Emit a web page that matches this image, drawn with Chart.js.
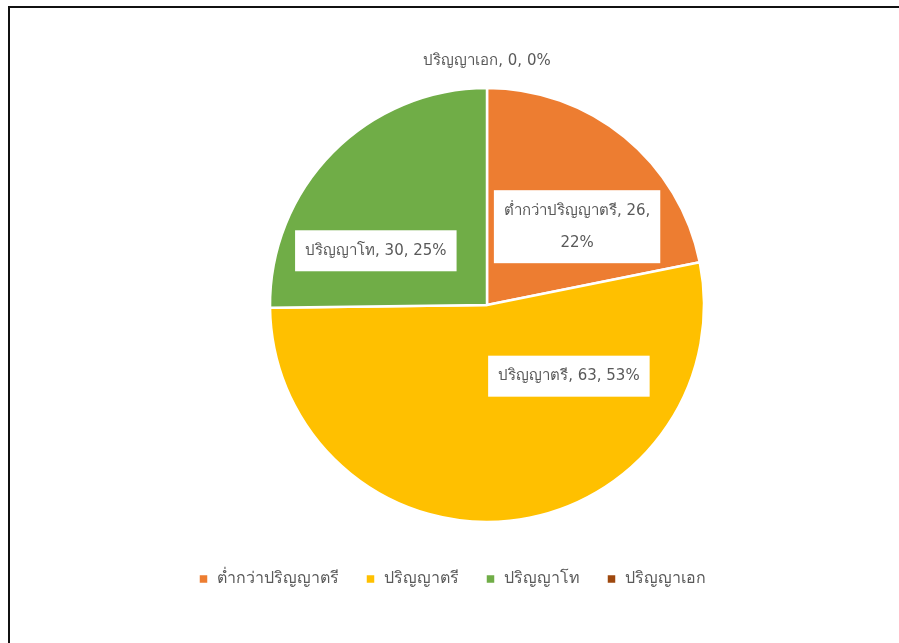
<!DOCTYPE html>
<html>
<head>
<meta charset="utf-8">
<script src="https://cdn.jsdelivr.net/npm/chart.js@4.4.1/dist/chart.umd.min.js"></script>
<style>
  html, body { margin: 0; padding: 0; background: #fff; }
  #wrap { position: relative; width: 899px; height: 643px; overflow: hidden; }
  #frame { position: absolute; left: 8px; top: 6px; width: 1000px; height: 1000px;
           border-left: 2px solid #111; border-top: 2px solid #111; }
  #box { position: absolute; left: 0; top: 0; width: 899px; height: 643px; }
</style>
</head>
<body>
<div id="wrap">
  <div id="frame"></div>
  <div id="box"><canvas id="pie"></canvas></div>
</div>
<script>
// ข้อมูลระดับการศึกษา
var categories = ['ต่ำกว่าปริญญาตรี', 'ปริญญาตรี', 'ปริญญาโท', 'ปริญญาเอก'];
var counts = [26, 63, 30, 0];
var colors = ['#ED7D31', '#FFC000', '#70AD47', '#9E480E'];

var FONT = "Tahoma, 'DejaVu Sans', 'Noto Sans', sans-serif";

// where each label box sits: angle (deg, 0 = 3 o'clock) and distance as part of radius
var labelPos = [
  { a: -41, d: 0.55 },
  { a: 41, d: 0.50 },
  { a: -154, d: 0.57 },
  { a: -90, d: 1.125 }
];

var total = 0;
for (var i = 0; i < counts.length; i++) { total += counts[i]; }

var pieLabels = {
  id: 'pieLabels',
  afterDatasetsDraw: function(chart) {
    var ctx = chart.ctx;
    var meta = chart.getDatasetMeta(0);
    ctx.save();
    ctx.font = '15px ' + FONT;
    ctx.textAlign = 'center';
    ctx.textBaseline = 'middle';
    for (var i = 0; i < meta.data.length; i++) {
      var arc = meta.data[i];
      var pct = Math.round(counts[i] * 100 / total);
      var txt = categories[i] + ', ' + counts[i] + ', ' + pct + '%';
      var lines = [txt];
      if (ctx.measureText(txt).width > 170) {
        var cut = txt.lastIndexOf(', ');
        lines = [txt.substring(0, cut + 1), txt.substring(cut + 2)];
      }
      var p = labelPos[i];
      var rad = p.a * Math.PI / 180;
      var cx = arc.x + Math.cos(rad) * arc.outerRadius * p.d;
      var cy = arc.y + Math.sin(rad) * arc.outerRadius * p.d;
      var w = 0;
      for (var k = 0; k < lines.length; k++) {
        w = Math.max(w, ctx.measureText(lines[k]).width);
      }
      var lh = 32;
      var h = lines.length * lh + 9;
      if (counts[i] > 0) {
        ctx.fillStyle = '#fff';
        ctx.fillRect(cx - w / 2 - 10, cy - h / 2, w + 20, h);
      }
      ctx.fillStyle = '#595959';
      for (var k = 0; k < lines.length; k++) {
        ctx.fillText(lines[k], cx, cy - (lines.length - 1) * lh / 2 + k * lh);
      }
    }
    ctx.restore();
  }
};

// legend sits a bit left of the pie, like in the sheet
var legendShift = {
  id: 'legendShift',
  afterLayout: function(chart) {
    chart.legend.left -= 35;
    chart.legend.right -= 35;
  }
};

new Chart(document.getElementById('pie'), {
  type: 'pie',
  data: {
    labels: categories,
    datasets: [{
      data: counts,
      backgroundColor: colors,
      borderColor: '#fff',
      borderWidth: 2.5,
      radius: 217
    }]
  },
  options: {
    responsive: true,
    maintainAspectRatio: false,
    animation: false,
    layout: { padding: { top: 66, bottom: 46, left: 75 } },
    plugins: {
      legend: {
        position: 'bottom',
        labels: {
          boxWidth: 10,
          boxHeight: 10,
          padding: 27,
          color: '#595959',
          font: { size: 16, family: FONT }
        }
      },
      tooltip: { enabled: false }
    }
  },
  plugins: [pieLabels, legendShift]
});
</script>
</body>
</html>
